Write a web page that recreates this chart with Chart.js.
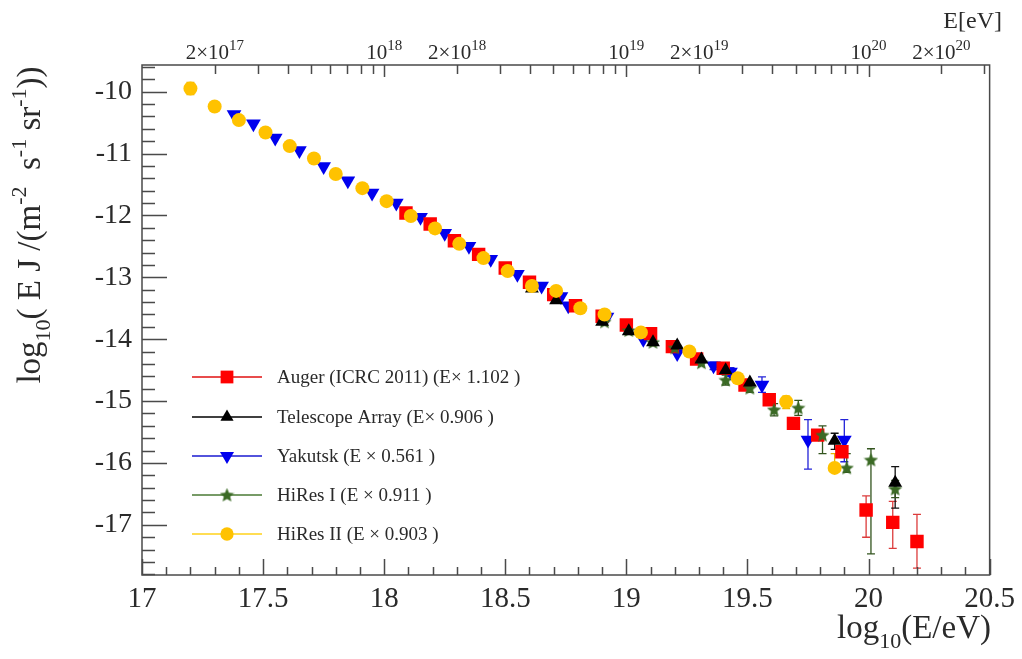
<!DOCTYPE html>
<html>
<head>
<meta charset="utf-8">
<script src="https://cdn.jsdelivr.net/npm/chart.js@4.4.1/dist/chart.umd.min.js"></script>
<style>
  html, body { margin: 0; padding: 0; background: #fff; overflow: hidden; }
  canvas { display: block; }
</style>
</head>
<body>
<canvas id="spectrum" width="1022" height="659"></canvas>
<script>
// ---- axis ranges and tick labels ----
const xRange = [17, 20.5];
const yRange = [-17.81, -9.57];
const xTickValues = [17, 17.5, 18, 18.5, 19, 19.5, 20, 20.5];
const yTickValues = [-17, -16, -15, -14, -13, -12, -11, -10];
const topLabelMantissa = [2, 1, 2, 1, 2, 1, 2];
const topLabelExponent = [17, 18, 18, 19, 19, 20, 20];

// ---- Auger (ICRC 2011) ----
const augerX = [18.09, 18.19, 18.29, 18.39, 18.50, 18.60, 18.70, 18.79, 18.90, 19.00, 19.10,
                19.19, 19.29, 19.40, 19.49, 19.59, 19.69, 19.79, 19.89, 19.99, 20.10, 20.20];
const augerY = [-11.96, -12.14, -12.41, -12.63, -12.85, -13.08, -13.28, -13.46, -13.63, -13.77, -13.91,
                -14.12, -14.32, -14.47, -14.74, -14.98, -15.36, -15.55, -15.82, -16.76, -16.96, -17.27];
const augerHi = [null, null, null, null, null, null, null, null, null, null, null,
                 null, null, null, null, -14.93, -15.31, -15.49, -15.75, -16.53, -16.62, -16.83];
const augerLo = [null, null, null, null, null, null, null, null, null, null, null,
                 null, null, null, null, -15.03, -15.41, -15.61, -15.90, -17.20, -17.38, -17.70];

// ---- Telescope Array ----
const taX = [18.61, 18.71, 18.90, 19.01, 19.11, 19.21, 19.31, 19.41, 19.51, 19.86, 20.11];
const taY = [-13.18, -13.37, -13.72, -13.87, -14.05, -14.10, -14.33, -14.50, -14.70, -15.64, -16.32];
const taHi = [null, null, null, null, null, null, null, null, null, -15.52, -16.06];
const taLo = [null, null, null, null, null, null, null, null, null, -15.78, -16.73];

// ---- Yakutsk ----
const yakX = [17.38, 17.46, 17.55, 17.65, 17.75, 17.85, 17.95, 18.05, 18.15, 18.25, 18.35, 18.44,
              18.55, 18.65, 18.73, 18.76, 18.92, 19.07, 19.21, 19.36, 19.43, 19.56, 19.75, 19.90];
const yakY = [-10.37, -10.52, -10.75, -10.95, -11.21, -11.44, -11.64, -11.80, -12.03, -12.29, -12.50, -12.71,
              -12.95, -13.14, -13.31, -13.46, -13.64, -14.00, -14.23, -14.43, -14.53, -14.74, -15.63, -15.63];
const yakHi = [null, null, null, null, null, null, null, null, null, null, null, null,
               null, null, null, null, null, null, null, -14.37, -14.46, -14.61, -15.30, -15.30];
const yakLo = [null, null, null, null, null, null, null, null, null, null, null, null,
               null, null, null, null, null, null, null, -14.49, -14.60, -14.86, -16.10, -15.98];

// ---- HiRes I ----
const hr1X = [18.91, 19.01, 19.11, 19.20, 19.31, 19.41, 19.51, 19.61, 19.71, 19.81, 19.91, 20.01, 20.11];
const hr1Y = [-13.72, -13.86, -14.05, -14.14, -14.38, -14.66, -14.79, -15.14, -15.11, -15.55, -16.08, -15.95, -16.42];
const hr1Hi = [null, null, null, null, null, -14.58, -14.72, -15.04, -14.99, -15.40, -15.85, -15.77, -16.28];
const hr1Lo = [null, null, null, null, null, -14.74, -14.86, -15.24, -15.23, -15.85, -16.15, -17.47, -16.56];

// ---- HiRes II ----
const hr2X = [17.20, 17.30, 17.40, 17.51, 17.61, 17.71, 17.80, 17.91, 18.01, 18.11, 18.21, 18.31,
              18.41, 18.51, 18.61, 18.71, 18.81, 18.91, 19.06, 19.26, 19.46, 19.66, 19.86];
const hr2Y = [-9.95, -10.24, -10.46, -10.66, -10.88, -11.08, -11.33, -11.56, -11.77, -12.01, -12.21, -12.46,
              -12.69, -12.90, -13.14, -13.22, -13.50, -13.60, -13.89, -14.20, -14.63, -15.01, -16.08];
const hr2Hi = [-9.85, null, null, null, null, null, null, null, null, null, null, null,
               null, null, null, null, null, null, null, null, null, -14.92, -15.85];
const hr2Lo = [-10.05, null, null, null, null, null, null, null, null, null, null, null,
               null, null, null, null, null, null, null, null, null, -15.12, -16.12];

const seriesNames = [
  'Auger (ICRC 2011) (E\u00d7 1.102 )',
  'Telescope Array (E\u00d7 0.906 )',
  'Yakutsk (E \u00d7 0.561 )',
  'HiRes I (E \u00d7 0.911 )',
  'HiRes II (E \u00d7 0.903 )'
];

const SERIF = "'Liberation Serif', 'DejaVu Serif', 'Times New Roman', serif";
const TEXT = '#2a2a2a';

function starImage(size, fill) {
  const c = document.createElement('canvas');
  c.width = c.height = size;
  const g = c.getContext('2d');
  const cx = size / 2, cy = size / 2 + 0.5, R = size / 2, r = R * 0.45;
  g.beginPath();
  for (let i = 0; i < 10; i++) {
    const a = -Math.PI / 2 + i * Math.PI / 5;
    const rr = i % 2 ? r : R;
    g.lineTo(cx + rr * Math.cos(a), cy + rr * Math.sin(a));
  }
  g.closePath();
  g.fillStyle = fill;
  g.fill();
  return c;
}
const hr1Star = starImage(15, '#3b6a25');

function points(xs, ys) { return xs.map((x, i) => ({ x: x, y: ys[i] })); }

const series = [
  { name: seriesNames[0], x: augerX, y: augerY, hi: augerHi, lo: augerLo,
    fill: '#ff0000', line: '#e01010', bar: '#dc3c3c', style: 'rect', radius: 9.5, rotation: 0, order: 3 },
  { name: seriesNames[1], x: taX, y: taY, hi: taHi, lo: taLo,
    fill: '#000000', line: '#000000', bar: '#111111', style: 'triangle', radius: 8, rotation: 0, order: 1 },
  { name: seriesNames[2], x: yakX, y: yakY, hi: yakHi, lo: yakLo,
    fill: '#0000ee', line: '#1a1ad0', bar: '#2323d8', style: 'triangle', radius: 8.5, rotation: 180, order: 4 },
  { name: seriesNames[3], x: hr1X, y: hr1Y, hi: hr1Hi, lo: hr1Lo,
    fill: '#3b6a25', line: '#4a7a35', bar: '#33551f', style: hr1Star, radius: 7, rotation: 0, order: 2 },
  { name: seriesNames[4], x: hr2X, y: hr2Y, hi: hr2Hi, lo: hr2Lo,
    fill: '#ffc200', line: '#ffd21a', bar: '#e8b400', style: 'circle', radius: 7, rotation: 0, order: 0 }
];

// text runs made of normal / superscript / subscript pieces
function richWidth(ctx, parts) {
  let w = 0;
  for (const p of parts) { ctx.font = p.size + 'px ' + SERIF; w += ctx.measureText(p.t).width; }
  return w;
}
function drawRich(ctx, parts, x, y) {
  let cx = x;
  for (const p of parts) {
    ctx.font = p.size + 'px ' + SERIF;
    ctx.fillText(p.t, cx, y + (p.dy || 0));
    cx += ctx.measureText(p.t).width;
  }
}

// error bars with short caps, under the markers
const errorBars = {
  id: 'errorBars',
  beforeDatasetsDraw(chart) {
    const ctx = chart.ctx, xs = chart.scales.x, ys = chart.scales.y;
    ctx.save();
    ctx.lineWidth = 1.3;
    series.forEach(s => {
      ctx.strokeStyle = s.bar;
      s.x.forEach((xv, i) => {
        if (s.hi[i] === null) return;
        const px = xs.getPixelForValue(xv);
        const pHi = ys.getPixelForValue(s.hi[i]);
        const pLo = ys.getPixelForValue(s.lo[i]);
        ctx.beginPath();
        ctx.moveTo(px, pHi); ctx.lineTo(px, pLo);
        ctx.moveTo(px - 4, pHi); ctx.lineTo(px + 4, pHi);
        ctx.moveTo(px - 4, pLo); ctx.lineTo(px + 4, pLo);
        ctx.stroke();
      });
    });
    ctx.restore();
  }
};

// frame, inward ticks, energy axis on top, titles and legend
const frame = {
  id: 'frame',
  afterDraw(chart) {
    const ctx = chart.ctx, a = chart.chartArea, xs = chart.scales.x, ys = chart.scales.y;
    ctx.save();
    ctx.strokeStyle = '#4a4a4a';
    ctx.lineWidth = 1.5;
    ctx.strokeRect(a.left, a.top, a.right - a.left, a.bottom - a.top);

    ctx.beginPath();
    // bottom ticks every 0.1
    for (let k = 0; k <= 35; k++) {
      const v = xRange[0] + k * 0.1;
      const px = Math.round(xs.getPixelForValue(v)) + 0.5;
      const len = (k % 5 === 0) ? 16 : 8;
      ctx.moveTo(px, a.bottom); ctx.lineTo(px, a.bottom - len);
    }
    // left ticks every 0.2
    for (let k = 0; k <= 45; k++) {
      const v = -18 + k * 0.2;
      if (v < yRange[0] || v > yRange[1]) continue;
      const py = Math.round(ys.getPixelForValue(v)) + 0.5;
      const major = Math.abs(v - Math.round(v)) < 1e-6;
      ctx.moveTo(a.left, py); ctx.lineTo(a.left + (major ? 25 : 13), py);
    }
    // top ticks at k x 10^n eV
    for (let n = 17; n <= 20; n++) {
      for (let k = 1; k <= 9; k++) {
        const v = n + Math.log10(k);
        if (v <= xRange[0] || v >= xRange[1]) continue;
        const px = Math.round(xs.getPixelForValue(v)) + 0.5;
        ctx.moveTo(px, a.top); ctx.lineTo(px, a.top + (k === 1 ? 12 : 9));
      }
    }
    ctx.stroke();

    ctx.fillStyle = TEXT;
    ctx.textBaseline = 'alphabetic';
    // top energy labels
    topLabelMantissa.forEach((m, i) => {
      const e = topLabelExponent[i];
      const v = e + Math.log10(m);
      const parts = (m === 1 ? [] : [{ t: m + '\u00d7', size: 21 }])
        .concat([{ t: '10', size: 21 }, { t: String(e), size: 15, dy: -9 }]);
      const w = richWidth(ctx, parts);
      drawRich(ctx, parts, xs.getPixelForValue(v) - w / 2, 59);
    });
    ctx.font = '24px ' + SERIF;
    ctx.textAlign = 'right';
    ctx.fillText('E[eV]', 1002, 28);
    ctx.textAlign = 'left';

    // x title
    const xt = [{ t: 'log', size: 33 }, { t: '10', size: 22, dy: 10 }, { t: '(E/eV)', size: 33 }];
    drawRich(ctx, xt, 991 - richWidth(ctx, xt), 638);

    // y title
    const yt = [{ t: 'log', size: 33 }, { t: '10', size: 22, dy: 10 }, { t: '( E J /(m', size: 33 },
                { t: '-2', size: 22, dy: -14 }, { t: '  s', size: 33 }, { t: '-1', size: 22, dy: -14 },
                { t: ' sr', size: 33 }, { t: '-1', size: 22, dy: -14 }, { t: '))', size: 33 }];
    ctx.save();
    ctx.translate(40, 225);
    ctx.rotate(-Math.PI / 2);
    drawRich(ctx, yt, -richWidth(ctx, yt) / 2, 0);
    ctx.restore();

    // legend: line with marker, then label
    const rowY = [377, 417, 456, 495, 534];
    series.forEach((s, i) => {
      const y = rowY[i];
      ctx.strokeStyle = s.line;
      ctx.lineWidth = 1.5;
      ctx.beginPath(); ctx.moveTo(192, y); ctx.lineTo(262, y); ctx.stroke();
      ctx.fillStyle = s.fill;
      Chart.helpers.drawPoint(ctx, {
        pointStyle: s.style, rotation: s.rotation, radius: s.radius * 0.95, borderWidth: 0
      }, 227, y);
      ctx.fillStyle = TEXT;
      ctx.font = '19px ' + SERIF;
      ctx.fillText(s.name, 277, y + 6);
    });
    ctx.restore();
  }
};

new Chart(document.getElementById('spectrum'), {
  type: 'scatter',
  data: {
    datasets: series.map(s => ({
      label: s.name,
      data: points(s.x, s.y),
      pointStyle: s.style,
      pointRotation: s.rotation,
      pointRadius: s.radius,
      pointHoverRadius: s.radius,
      pointBackgroundColor: s.fill,
      pointBorderColor: s.fill,
      pointBorderWidth: 0,
      showLine: false,
      order: s.order
    }))
  },
  options: {
    responsive: false,
    animation: false,
    devicePixelRatio: 1,
    layout: { padding: { top: 65, right: 31, left: 0, bottom: 0 } },
    plugins: { legend: { display: false }, tooltip: { enabled: false } },
    scales: {
      x: {
        type: 'linear', min: xRange[0], max: xRange[1],
        afterBuildTicks: s => { s.ticks = xTickValues.map(v => ({ value: v })); },
        afterFit: s => { s.height = 84; },
        grid: { display: false, drawTicks: false },
        border: { display: false },
        ticks: { padding: 7, color: TEXT, font: { family: SERIF, size: 29 }, maxRotation: 0,
                 autoSkip: false, callback: v => String(v) }
      },
      y: {
        type: 'linear', min: yRange[0], max: yRange[1],
        afterBuildTicks: s => { s.ticks = yTickValues.map(v => ({ value: v })); },
        afterFit: s => { s.width = 142; },
        grid: { display: false, drawTicks: false },
        border: { display: false },
        ticks: { padding: 10, color: TEXT, font: { family: SERIF, size: 28 }, callback: v => String(v) }
      }
    }
  },
  plugins: [errorBars, frame]
});
</script>
</body>
</html>
